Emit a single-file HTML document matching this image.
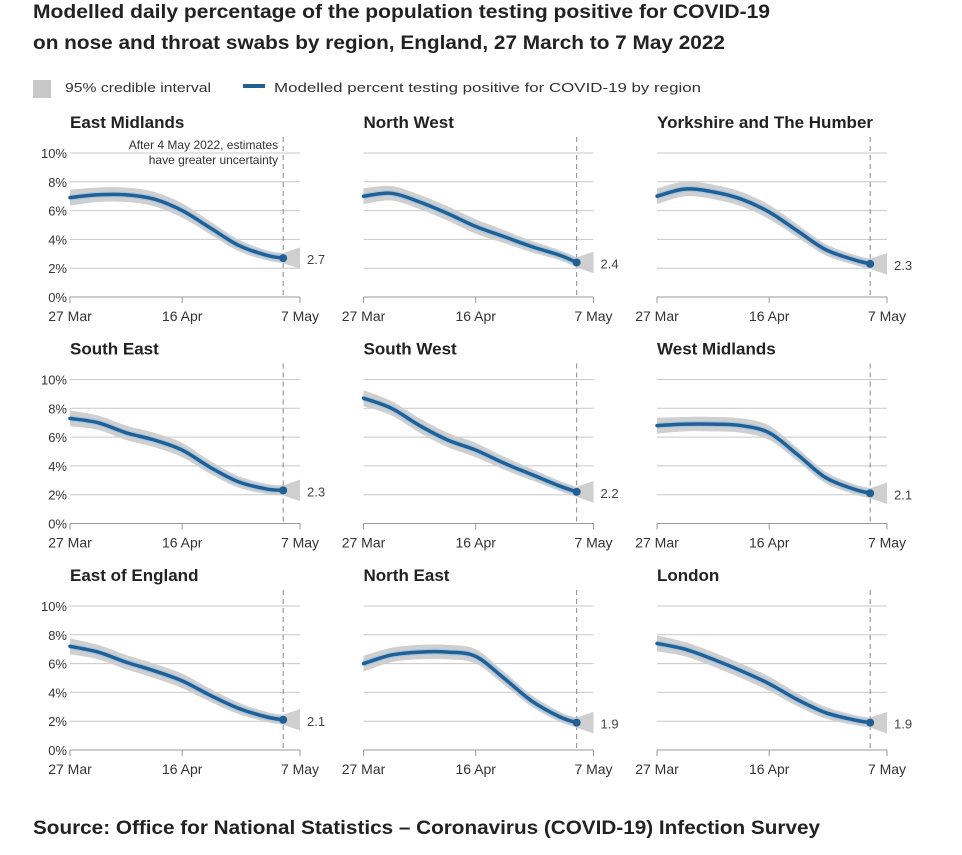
<!DOCTYPE html>
<html><head><meta charset="utf-8"><style>
body{margin:0;background:#fff;font-family:"Liberation Sans",sans-serif;}
svg text{font-family:"Liberation Sans",sans-serif;}
</style></head><body>
<svg id="chart" width="962" height="850" xmlns="http://www.w3.org/2000/svg">
<text x="33" y="18" font-size="19" font-weight="bold" fill="#222" textLength="737" lengthAdjust="spacingAndGlyphs">Modelled daily percentage of the population testing positive for COVID-19</text>
<text x="33" y="49" font-size="19" font-weight="bold" fill="#222" textLength="692" lengthAdjust="spacingAndGlyphs">on nose and throat swabs by region, England, 27 March to 7 May 2022</text>
<g>
<rect x="33" y="80" width="18" height="18" fill="#c8c8c8"/>
<text x="65" y="92" font-size="13" fill="#333" textLength="146" lengthAdjust="spacingAndGlyphs">95% credible interval</text>
<rect x="243" y="84" width="22" height="4" fill="#206095"/>
<text x="274" y="92" font-size="13" fill="#333" textLength="427" lengthAdjust="spacingAndGlyphs">Modelled percent testing positive for COVID-19 by region</text>
</g>
<text x="33" y="834" font-size="19" font-weight="bold" fill="#222" textLength="787" lengthAdjust="spacingAndGlyphs">Source: Office for National Statistics – Coronavirus (COVID-19) Infection Survey</text>
</svg>
<script>
const regions = ["East Midlands","North West","Yorkshire and The Humber","South East","South West","West Midlands","East of England","North East","London"];
const days = [0,5,10,15,20,25,30,35,38];
const emValues = [6.9,7.1,7.1,6.8,6.0,4.8,3.6,2.9,2.7];
const nwValues = [7.0,7.2,6.6,5.8,4.9,4.2,3.5,2.9,2.4];
const yhValues = [7.0,7.5,7.3,6.8,5.9,4.6,3.3,2.6,2.3];
const seValues = [7.3,7.0,6.3,5.8,5.1,3.9,2.9,2.4,2.3];
const swValues = [8.7,8.0,6.8,5.8,5.1,4.2,3.4,2.6,2.2];
const wmValues = [6.8,6.9,6.9,6.8,6.3,4.8,3.2,2.4,2.1];
const eeValues = [7.2,6.8,6.1,5.5,4.8,3.8,2.9,2.3,2.1];
const neValues = [6.0,6.6,6.8,6.8,6.5,5.0,3.4,2.3,1.9];
const lonValues = [7.4,7.0,6.3,5.5,4.6,3.5,2.6,2.1,1.9];
const latestLabels = ["2.7","2.4","2.3","2.3","2.2","2.1","2.1","1.9","1.9"];
const bandHalf = [0.55,0.5,0.5,0.5,0.5,0.45,0.4,0.35,0.35];
const yTicks = [0,2,4,6,8,10];
const xTickDays = [0,20,41];
const xTickLabels = ["27 Mar","16 Apr","7 May"];
const allValues = [emValues,nwValues,yhValues,seValues,swValues,wmValues,eeValues,neValues,lonValues];

const NS="http://www.w3.org/2000/svg";
const svg=document.getElementById('chart');
function mk(tag,attrs,parent){const e=document.createElementNS(NS,tag);for(const k in attrs)e.setAttribute(k,attrs[k]);(parent||svg).appendChild(e);return e;}
function smooth(pts){let d="M"+pts[0][0]+","+pts[0][1];for(let i=0;i<pts.length-1;i++){const p0=pts[Math.max(i-1,0)],p1=pts[i],p2=pts[i+1],p3=pts[Math.min(i+2,pts.length-1)];const c1=[p1[0]+(p2[0]-p0[0])/6,p1[1]+(p2[1]-p0[1])/6],c2=[p2[0]-(p3[0]-p1[0])/6,p2[1]-(p3[1]-p1[1])/6];d+=" C"+c1[0]+","+c1[1]+" "+c2[0]+","+c2[1]+" "+p2[0]+","+p2[1];}return d;}
function smoothCont(pts){return smooth(pts).replace(/^M/,"L");}

allValues.forEach((vals,idx)=>{
  const col=idx%3,row=Math.floor(idx/3);
  const x0=70+col*293.5,x1=x0+230,yBase=297+row*226.5;
  const xs=d=>x0+d*(x1-x0)/41;
  const ys=v=>yBase-v*14.4;
  const g=mk('g',{});
  
  
  const t=mk('text',{x:x0,y:yBase-169,'font-size':17,'font-weight':'bold',fill:'#222'},g);
  
  
  t.textContent=regions[idx];
  yTicks.forEach(v=>{
    if(v>0){const l=mk('line',{x1:x0,x2:x1,y1:ys(v),y2:ys(v),stroke:'#c8c8c8','stroke-width':1},g);
    
    }
    if(col===0){const tl=mk('text',{x:x0-3,y:ys(v)+5,'font-size':13,fill:'#333','text-anchor':'end'},g);
    
    
    tl.textContent=v+"%";}
  });
  const ax=mk('line',{x1:x0,x2:x1,y1:yBase,y2:yBase,stroke:'#999','stroke-width':1},g);
  
  
  xTickDays.forEach((d,i)=>{
    const tk=mk('line',{x1:xs(d),x2:xs(d),y1:yBase,y2:yBase+6,stroke:'#999'},g);
    
    
    const tl=mk('text',{x:xs(d),y:yBase+24,'font-size':14,fill:'#333','text-anchor':'middle'},g);
    
    
    tl.textContent=xTickLabels[i];
  });
  const dl=mk('line',{x1:xs(38),x2:xs(38),y1:yBase-160,y2:yBase,stroke:'#888','stroke-dasharray':'5,4'},g);
  
  
  const upper=days.map((d,i)=>[xs(d),ys(vals[i]+bandHalf[i])]);
  const lower=days.map((d,i)=>[xs(d),ys(vals[i]-bandHalf[i])]).reverse();
  const last=vals[vals.length-1];
  const lc=smoothCont(lower);
  const bd=smooth(upper)+" L"+xs(41)+","+ys(last+0.75)+" L"+xs(41)+","+ys(last-0.75)+" "+lc+"Z";
  const band=mk('path',{d:bd,fill:'#cfcfcf'},g);
  
  
  const pts=days.map((d,i)=>[xs(d),ys(vals[i])]);
  const glow=mk('path',{d:smooth(pts),fill:'none',stroke:'#a9c6e0','stroke-width':6},g);
  
  
  const ln=mk('path',{d:smooth(pts),fill:'none',stroke:'#206095','stroke-width':3.5,'stroke-linecap':'round'},g);
  
  
  const dot=mk('circle',{cx:xs(38),cy:ys(last),r:4,fill:'#206095'},g);
  
  
  const lb=mk('text',{x:xs(41)+7,y:ys(last)+6,'font-size':13,fill:'#444'},g);
  
  
  lb.textContent=latestLabels[idx];
  if(idx===0){
    ["After 4 May 2022, estimates","have greater uncertainty"].forEach((s,k)=>{
      const a=mk('text',{x:xs(38)-5,y:yBase-148+k*15,'font-size':12,fill:'#333','text-anchor':'end'},g);
      
      
      a.textContent=s;
    });
  }
});
</script>
</body></html>
